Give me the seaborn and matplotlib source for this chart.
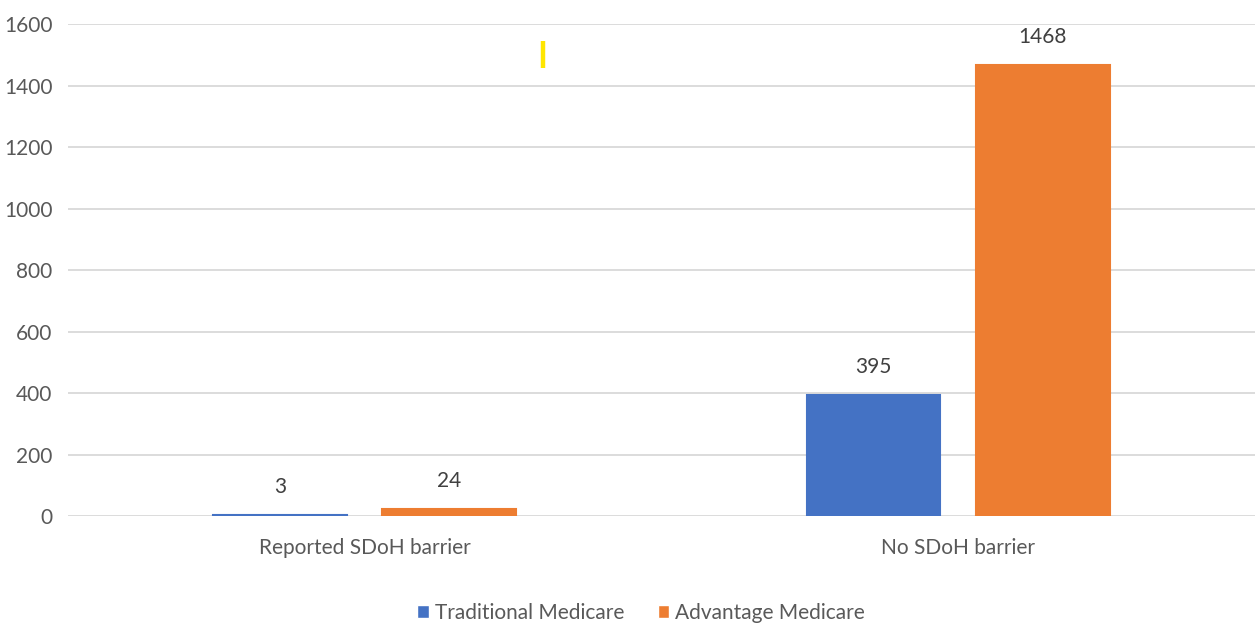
import pandas as pd
import matplotlib.pyplot as plt
import seaborn as sns

# --- data ---
categories = ['Reported SDoH barrier', 'No SDoH barrier']
traditional = [3, 395]
advantage = [24, 1468]
series_names = ['Traditional Medicare', 'Advantage Medicare']
y_ticks = [0, 200, 400, 600, 800, 1000, 1200, 1400, 1600]

# stray yellow mark in the original image (x in category units, y in data units)
mark_x = [0.30, 0.30]
mark_y = [1457, 1545]

df = pd.DataFrame({
    'category': categories * 2,
    'series': [series_names[0]] * 2 + [series_names[1]] * 2,
    'value': traditional + advantage,
})

sns.set_style('white')
plt.rcParams['font.family'] = ['Lato', 'DejaVu Sans']

fig = plt.figure(figsize=(12.55, 6.27), dpi=100)
ax = fig.add_axes([0.054, 0.177, 0.946, 0.7847])

colors = ['#4472C4', '#ED7D31']
palette = dict(zip(series_names, colors))
sns.barplot(data=df, x='category', y='value', hue='series', order=categories,
            hue_order=series_names, palette=palette, width=0.57, gap=0.21,
            saturation=1, ax=ax, legend=True, zorder=3)

# thin edge in the bar colour so the tiny bar stays visible
for cont, c in zip(ax.containers, colors):
    for bar in cont:
        bar.set_edgecolor(c)
        bar.set_linewidth(1.5)
    ax.bar_label(cont, padding=13, fontsize=15, color='#404040')

ax.plot(mark_x, mark_y, color='#FFE600', linewidth=3.2, solid_capstyle='butt', zorder=4)

ax.set_ylim(0, 1600)
ax.set_xlim(-0.5, 1.5)
ax.set_yticks(y_ticks)
ax.yaxis.grid(True, color='#D9D9D9', linewidth=1.3, zorder=0)
ax.set_axisbelow(True)
for s in ax.spines.values():
    s.set_visible(False)
ax.tick_params(axis='y', labelsize=15, colors='#595959', length=0, pad=11)
ax.tick_params(axis='x', labelsize=15, colors='#595959', length=0, pad=16)
ax.set_xlabel('')
ax.set_ylabel('')

ax.legend(loc='lower center', bbox_to_anchor=(0.483, -0.255), ncol=2, frameon=False,
          fontsize=15, labelcolor='#595959', handlelength=0.55, handleheight=0.55,
          handletextpad=0.3, columnspacing=1.6)

plt.savefig('out.png', dpi=100)
